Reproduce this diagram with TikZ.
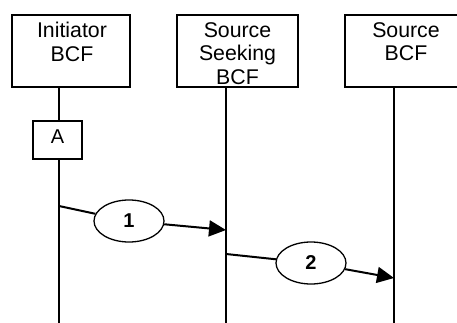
\documentclass[tikz,border=0pt]{standalone}
\usepackage{fontspec}
\setmainfont{Liberation Sans}
\usetikzlibrary{arrows.meta,shapes.geometric}
\begin{document}
\begin{tikzpicture}[x=1pt,y=-1pt,
  every node/.style={font=\fontsize{21.3}{23.5}\selectfont},
  boxst/.style={draw,line width=1.3pt,rectangle,inner sep=0pt,minimum width=118pt,minimum height=72pt},
  lbl/.style={align=center,anchor=north,inner sep=0pt},
  life/.style={line width=1.3pt},
  msg/.style={line width=2pt},
  bubble/.style={draw,ellipse,line width=1.3pt,inner sep=0pt,minimum width=70pt,minimum height=42pt,font=\fontsize{20}{24}\selectfont\bfseries},
  tip/.style={-{Triangle[length=17pt,width=16pt]}}]
\useasboundingbox (0,0) rectangle (457,323);
\clip (0,0) rectangle (457,323);
% participant boxes
\node[boxst] (b1) at (71,51) {};
\node[boxst,minimum width=121pt] (b2) at (237.5,51) {};
\node[boxst,minimum width=122pt] (b3) at (406,51) {};
\node[lbl] (t1) at (72,22.3) {Initiator\\BCF};
\node[lbl] (t2) at (237.5,22.3) {Source\\Seeking\\BCF};
\node[lbl] (t3) at (406,22.3) {Source\\BCF};
% lifelines
\coordinate (l1top) at (59,87);
\coordinate (l2top) at (226,87);
\coordinate (l3top) at (394,87);
\coordinate (l1bot) at (59,323);
\coordinate (l2bot) at (226,323);
\coordinate (l3bot) at (394,323);
\node[draw,line width=1.3pt,rectangle,inner sep=0pt,minimum width=49pt,minimum height=38pt] (A) at (57.5,140) {};
\node[inner sep=0pt,anchor=base,font=\fontsize{20}{24}\selectfont] (Atxt) at (57.5,143) {A};
\draw[life] (l1top) -- (A.north -| l1top);
\draw[life] (A.south -| l1top) -- (l1bot);
\draw[life] (l2top) -- (l2bot);
\draw[life] (l3top) -- (l3bot);
% messages
\coordinate (s1) at (59,206);
\coordinate (e1end) at (226,230);
\coordinate (s2) at (226,254);
\coordinate (e2end) at (394,278);
\node[bubble] (m1) at (129,221) {1};
\node[bubble] (m2) at (311,263) {2};
\draw[msg] (s1) -- (m1);
\draw[msg,tip] (m1) -- (e1end);
\draw[msg] (s2) -- (m2);
\draw[msg,tip] (m2) -- (e2end);
\end{tikzpicture}
\end{document}
